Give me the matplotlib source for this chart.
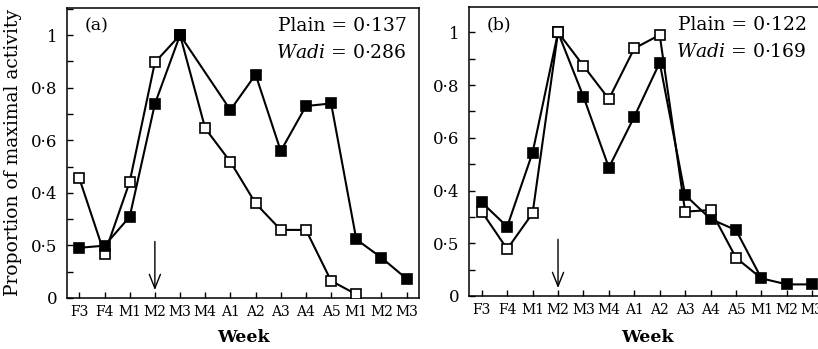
import numpy as np
import matplotlib.pyplot as plt
from matplotlib.ticker import MultipleLocator, FixedLocator, FixedFormatter

plt.rcParams['font.family'] = ['DejaVu Serif']
plt.rcParams['mathtext.fontset'] = 'dejavuserif'

weeks = ['F3', 'F4', 'M1', 'M2', 'M3', 'M4', 'A1', 'A2', 'A3', 'A4', 'A5', 'M1', 'M2', 'M3']
ytick_vals = [0, 0.2, 0.4, 0.6, 0.8, 1.0]
ytick_labels = ['0', '0·5', '0·4', '0·6', '0·8', '1']

# panel (a)
plain_a = [0.455, 0.167, 0.442, 0.896, 1.0, 0.645, 0.518, 0.36, 0.259, 0.259, 0.065, 0.014,
           np.nan, np.nan]
wadi_a = [0.191, 0.199, 0.309, 0.738, 1.0, np.nan, 0.715, 0.85, 0.559, 0.73, 0.74, 0.223,
          0.153, 0.073]
stats_a = ('0·137', '0·286')

# panel (b)
plain_b = [0.32, 0.178, 0.314, 1.0, 0.873, 0.747, 0.939, 0.99, 0.32, 0.326, 0.145, 0.067,
           np.nan, np.nan]
wadi_b = [0.355, 0.263, 0.544, 1.0, 0.756, 0.487, 0.68, 0.885, 0.383, 0.292, 0.25, 0.067,
          0.044, 0.044]
stats_b = ('0·122', '0·169')

arrow_week = 3  # M2

W, H = 818, 349
fig = plt.figure(figsize=(W / 100, H / 100), dpi=100)
ax_a = fig.add_axes([67 / W, 51 / H, 352 / W, 290 / H])
ax_b = fig.add_axes([469.3 / W, 53 / H, 355.4 / W, 289 / H])

x = np.arange(len(weeks))


def series(ax, y, filled, z, markevery=None):
    y = np.asarray(y, dtype=float)
    m = ~np.isnan(y)
    ax.plot(x[m], y[m], color='black', lw=1.5, marker='s', ms=6.8, mew=1.2,
            mec='black', mfc='black' if filled else 'white', zorder=z,
            markevery=markevery)


def style(ax, label, stats, top, xlab_pad):
    ax.set_xlim(-0.49, len(weeks) - 0.51)
    ax.set_ylim(0, top)
    ax.xaxis.set_major_locator(FixedLocator(x))
    ax.xaxis.set_major_formatter(FixedFormatter(weeks))
    ax.yaxis.set_major_locator(FixedLocator(ytick_vals))
    ax.yaxis.set_major_formatter(FixedFormatter(ytick_labels))
    ax.yaxis.set_minor_locator(MultipleLocator(0.1))
    ax.tick_params(which='both', direction='in', length=4.5, width=1.0,
                   top=False, right=False)
    ax.tick_params(axis='x', labelsize=10, pad=5)
    ax.tick_params(axis='y', labelsize=12, pad=7)
    for s in ax.spines.values():
        s.set_linewidth(1.1)
    ax.set_xlabel('Week', fontsize=12.5, fontweight='bold', labelpad=xlab_pad)
    ax.text(0.05, 0.938, label, transform=ax.transAxes, fontsize=12.5,
            ha='left', va='center')
    rx = 0.966 if label == '(a)' else 0.949
    ax.text(rx, 0.938, 'Plain = ' + stats[0], transform=ax.transAxes,
            fontsize=13.5, ha='right', va='center')
    ax.text(rx, 0.845, r'$\mathit{Wadi}$ = ' + stats[1], transform=ax.transAxes,
            fontsize=13.5, ha='right', va='center')
    ax.annotate('', xy=(arrow_week, 0.03), xytext=(arrow_week, 0.215),
                arrowprops=dict(arrowstyle='->,head_length=1.0,head_width=0.4',
                                lw=1.0, color='black', shrinkA=0, shrinkB=0))


series(ax_a, plain_a, False, 3)
series(ax_a, wadi_a, True, 4)
style(ax_a, '(a)', stats_a, 1.103, 7)
ax_a.set_ylabel('Proportion of maximal activity', fontsize=13.5, labelpad=6)

series(ax_b, wadi_b, True, 3)
series(ax_b, plain_b, False, 4, markevery=list(range(11)))
style(ax_b, '(b)', stats_b, 1.096, 9)

fig.savefig('out.png', dpi=100)
